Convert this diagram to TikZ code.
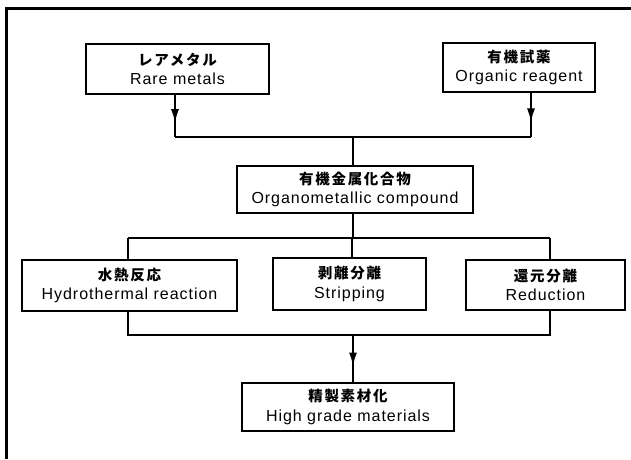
\documentclass[tikz,border=0pt]{standalone}
\usepackage{fontspec}
\setmainfont{Liberation Sans}[LetterSpace=6]
\newfontfamily\jpfont{Noto Sans CJK JP}[LetterSpace=12]
\usetikzlibrary{arrows.meta,decorations.markings}
\tikzset{
  box/.style={draw, line width=2pt, align=center, inner sep=0pt,
    font=\fontsize{16}{19.5}\selectfont},
  conn/.style={line width=2pt},
  frame/.style={line width=3pt},
  midarrow/.style={postaction={decorate},decoration={markings,
    mark=at position #1 with {\arrow{Latex[length=14pt,width=8pt]}}}}
}
\newcommand{\jp}[1]{{\jpfont\bfseries\fontsize{14.5}{19.5}\selectfont #1}}
\begin{document}
\begin{tikzpicture}[x=1pt,y=-1pt]
\useasboundingbox (0,0) rectangle (631,459);
% frame (only top and left edges visible)
\coordinate (fc) at (6,8);
\coordinate (fr) at (631,8);
\coordinate (fb) at (6,459);
\draw[frame] (fr) -- (fc) -- (fb);
% boxes
\node[box, minimum width=183pt, minimum height=50pt] (rare) at (177.5,69) {\jp{レアメタル}\\Rare metals};
\node[box, minimum width=152pt, minimum height=49pt] (org) at (519,67.5) {\jp{有機試薬}\\Organic reagent};
\node[box, minimum width=236pt, minimum height=47pt] (omc) at (355,189.5) {\jp{有機金属化合物}\\Organometallic compound};
\node[box, minimum width=215pt, minimum height=51pt] (hyd) at (129.5,285.5) {\jp{水熱反応}\\Hydrothermal reaction};
\node[box, minimum width=153pt, minimum height=52pt] (str) at (349.5,284) {\jp{剥離分離}\\Stripping};
\node[box, minimum width=159pt, minimum height=50pt] (red) at (545.5,285) {\jp{還元分離}\\Reduction};
\node[box, minimum width=212pt, minimum height=48pt] (hgm) at (348,407) {\jp{精製素材化}\\High grade materials};
% bus coordinates
\coordinate (ra) at (175,137);
\coordinate (oa) at (531,137);
\coordinate (ma) at (353,137);
\coordinate (b1) at (353,238);
\coordinate (bl) at (128,238);
\coordinate (bm) at (352,238);
\coordinate (br) at (550,238);
\coordinate (cl) at (128,335);
\coordinate (cm) at (353,335);
\coordinate (cr) at (550,335);
% connectors
\draw[conn, midarrow=0.67] (rare.south -| ra) -- (ra);
\draw[conn, midarrow=0.67] (org.south -| oa) -- (oa);
\draw[conn] (ra) -- (oa);
\draw[conn] (ma) -- (omc.north -| ma);
\draw[conn] (omc.south -| b1) -- (b1);
\draw[conn] (bl) -- (br);
\draw[conn] (bl) -- (hyd.north -| bl);
\draw[conn] (bm) -- (str.north -| bm);
\draw[conn] (br) -- (red.north -| br);
\draw[conn] (hyd.south -| cl) -- (cl) -- (cr) -- (red.south -| cr);
\draw[conn, midarrow=0.67] (cm) -- (hgm.north -| cm);
\end{tikzpicture}
\end{document}
